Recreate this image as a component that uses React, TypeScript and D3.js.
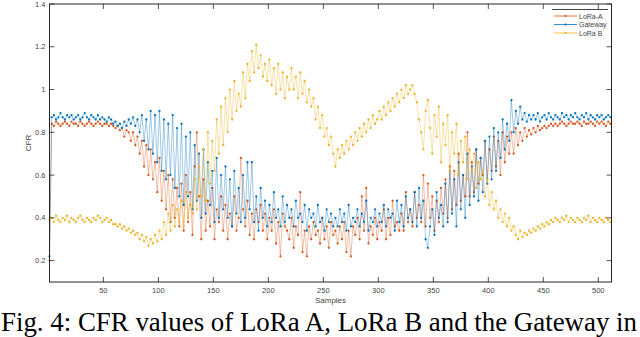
import React from "react";
import * as d3 from "d3";

// CFR values (×100), one value every 2 samples (s = 1, 3, 5, ... 511)
const loraA = [
  20, 84, 83, 85, 84, 83, 84, 85, 84, 83,
  85, 84, 84, 83, 85, 84, 83, 84, 85, 84,
  83, 84, 85, 84, 83, 84, 84, 83, 84, 83,
  82, 83, 81, 82, 78, 81, 80, 76, 80, 74,
  78, 70, 76, 64, 74, 60, 72, 58, 66, 52,
  68, 48, 62, 44, 60, 38, 58, 40, 54, 36,
  56, 34, 60, 38, 52, 32, 64, 80, 50, 30,
  58, 34, 48, 36, 54, 30, 44, 38, 50, 34,
  46, 30, 42, 36, 50, 34, 40, 68, 44, 36,
  48, 32, 42, 30, 44, 38, 46, 34, 42, 30,
  40, 34, 44, 28, 38, 22, 42, 36, 34, 30,
  40, 26, 36, 32, 52, 24, 34, 22, 36, 30,
  38, 32, 34, 28, 40, 30, 36, 26, 38, 32,
  34, 28, 36, 30, 38, 24, 34, 22, 36, 32,
  40, 30, 50, 34, 54, 28, 36, 32, 40, 30,
  38, 34, 44, 30, 40, 32, 48, 36, 38, 34,
  42, 34, 52, 38, 44, 36, 52, 40, 46, 38,
  60, 36, 56, 40, 50, 34, 48, 38, 54, 42,
  58, 40, 64, 44, 62, 46, 70, 48, 60, 50,
  80, 50, 66, 52, 72, 56, 68, 60, 76, 58,
  72, 62, 78, 64, 76, 60, 80, 66, 78, 70,
  80, 70, 82, 74, 80, 76, 82, 78, 81, 79,
  82, 80, 83, 81, 82, 83, 82, 83, 84, 83,
  84, 83, 84, 85, 84, 83, 84, 85, 84, 84,
  85, 84, 83, 85, 84, 84, 85, 84, 83, 85,
  84, 85, 84, 83, 85, 84,
];

const gateway = [
  22, 87, 88, 86, 87, 89, 87, 86, 88, 87,
  88, 86, 87, 88, 86, 87, 89, 87, 86, 88,
  87, 86, 88, 86, 87, 86, 85, 87, 86, 84,
  85, 83, 84, 82, 85, 83, 86, 84, 87, 83,
  86, 80, 88, 76, 86, 72, 90, 70, 88, 66,
  90, 62, 86, 58, 84, 60, 88, 54, 82, 50,
  84, 46, 78, 50, 80, 44, 74, 48, 70, 40,
  72, 42, 66, 46, 62, 38, 68, 40, 60, 44,
  64, 40, 58, 36, 62, 42, 54, 38, 60, 40,
  66, 44, 66, 38, 50, 34, 54, 40, 48, 36,
  46, 38, 52, 40, 44, 36, 50, 38, 46, 40,
  44, 36, 48, 40, 42, 38, 46, 34, 44, 40,
  42, 36, 46, 38, 40, 34, 44, 38, 42, 36,
  40, 36, 44, 38, 42, 34, 46, 36, 40, 38,
  44, 36, 42, 38, 48, 34, 40, 38, 44, 36,
  42, 38, 46, 36, 44, 40, 42, 34, 48, 38,
  46, 36, 50, 40, 44, 38, 52, 36, 54, 40,
  48, 30, 26, 36, 44, 32, 52, 40, 46, 36,
  56, 38, 62, 42, 58, 36, 66, 44, 60, 40,
  70, 46, 64, 50, 72, 48, 68, 52, 76, 56,
  78, 58, 82, 62, 80, 68, 86, 72, 84, 76,
  95, 80, 90, 84, 92, 86, 89, 85, 88, 86,
  88, 86, 89, 85, 87, 88, 86, 89, 87, 86,
  88, 87, 86, 89, 87, 88, 86, 88, 87, 89,
  87, 86, 88, 87, 89, 86, 88, 87, 86, 88,
  87, 88, 86, 87, 88, 87,
];

const loraB = [
  39, 40, 38, 41, 39, 38, 40, 39, 41, 38,
  40, 39, 38, 40, 41, 39, 38, 40, 39, 38,
  40, 39, 41, 40, 38, 39, 40, 38, 39, 37,
  37, 36, 37, 35, 36, 34, 35, 33, 34, 32,
  33, 30, 32, 29, 31, 27, 30, 28, 32, 29,
  34, 30, 38, 32, 42, 34, 46, 36, 44, 38,
  48, 36, 52, 40, 46, 42, 58, 44, 64, 50,
  72, 48, 80, 56, 76, 62, 86, 70, 92, 74,
  96, 80, 100, 86, 104, 90, 98, 92, 108, 96,
  112, 104, 118, 108, 121, 110, 116, 106, 112, 104,
  114, 102, 110, 98, 112, 100, 108, 96, 106, 100,
  110, 100, 106, 96, 108, 98, 104, 94, 100, 92,
  96, 86, 92, 82, 88, 78, 82, 74, 78, 70,
  64, 72, 68, 74, 70, 76, 72, 78, 74, 80,
  76, 82, 78, 84, 80, 86, 82, 88, 84, 86,
  90, 86, 92, 88, 94, 90, 96, 92, 98, 94,
  100, 96, 102, 98, 100, 102, 98, 94, 86, 80,
  72, 90, 95, 82, 70, 88, 78, 92, 66, 84,
  74, 88, 62, 80, 70, 84, 60, 76, 66, 78,
  58, 72, 62, 70, 54, 66, 58, 62, 50, 58,
  46, 52, 44, 48, 40, 44, 38, 42, 36, 40,
  34, 36, 32, 30, 34, 31, 33, 32, 34, 33,
  35, 34, 36, 35, 37, 36, 38, 37, 39, 38,
  40, 39, 38, 40, 39, 41, 38, 40, 39, 38,
  40, 39, 38, 40, 39, 41, 38, 40, 39, 38,
  40, 39, 38, 40, 39, 38,
];

const xTicks = [50, 100, 150, 200, 250, 300, 350, 400, 450, 500];
const yTicks = [0.2, 0.4, 0.6, 0.8, 1.0, 1.2, 1.4];
const seriesNames = ["LoRa-A", "Gateway", "LoRa B"];
const seriesColors = ["#D95319", "#0072BD", "#EDB120"];
const caption = "Fig. 4: CFR values of LoRa A, LoRa B and the Gateway in";

const W = 640;
const H = 337;
const L = 49.5, R = 611.5, T = 4, B = 282;

export default function App() {
  const x = d3.scaleLinear().domain([1, 512]).range([L, R]);
  const y = d3.scaleLinear().domain([0.1, 1.4]).range([B, T]);
  const allSeries = [loraA, gateway, loraB].map((arr) =>
    arr.map((v, i) => ({ s: 1 + i * 2, v: v / 100 }))
  );
  const line = d3
    .line<{ s: number; v: number }>()
    .x((d) => x(d.s))
    .y((d) => y(d.v));
  const axisColor = "#262626";
  const tickFont = "Liberation Sans, Arial, sans-serif";
  const fmt = (v: number) => (Math.abs(v - 1) < 1e-9 ? "1" : d3.format(".1f")(v));

  return (
    <svg
      width={W}
      height={H}
      style={{ position: "absolute", left: 0, top: 0, background: "#fff" }}
    >
      <rect x={0} y={0} width={W} height={H} fill="#fff" />
      {allSeries.map((data, k) => (
        <g key={k}>
          <path d={line(data) || ""} fill="none" stroke={seriesColors[k]} strokeWidth={0.5} strokeOpacity={0.75} />
          {data.map((d, i) => (
            <circle key={i} cx={x(d.s)} cy={y(d.v)} r={1.15} fill={seriesColors[k]} />
          ))}
        </g>
      ))}
      {/* frame */}
      <rect x={L} y={T} width={R - L} height={B - T} fill="none" stroke={axisColor} strokeWidth={1} />
      {xTicks.map((t) => (
        <g key={"x" + t}>
          <line x1={x(t)} x2={x(t)} y1={B} y2={B - 5} stroke={axisColor} strokeWidth={0.8} />
          <line x1={x(t)} x2={x(t)} y1={T} y2={T + 5} stroke={axisColor} strokeWidth={0.8} />
          <text x={x(t)} y={B + 11} textAnchor="middle" fontSize={7.5} fontFamily={tickFont} fill="#444">
            {t}
          </text>
        </g>
      ))}
      {yTicks.map((t) => (
        <g key={"y" + t}>
          <line x1={L} x2={L + 5} y1={y(t)} y2={y(t)} stroke={axisColor} strokeWidth={0.8} />
          <line x1={R} x2={R - 5} y1={y(t)} y2={y(t)} stroke={axisColor} strokeWidth={0.8} />
          <text x={L - 4} y={y(t) + 2.5} textAnchor="end" fontSize={7.5} fontFamily={tickFont} fill="#444">
            {fmt(t)}
          </text>
        </g>
      ))}
      <text
        transform={`translate(${31},${(T + B) / 2}) rotate(-90)`}
        textAnchor="middle"
        fontSize={8}
        fontFamily={tickFont}
        fill="#444"
      >
        CFR
      </text>
      <text x={(L + R) / 2} y={B + 21} textAnchor="middle" fontSize={8} fontFamily={tickFont} fill="#444">
        Samples
      </text>
      {/* legend */}
      <line x1={552} x2={608} y1={9.5} y2={9.5} stroke="#444" strokeWidth={1.2} />
      {seriesNames.map((n, k) => (
        <g key={n}>
          <line x1={554} x2={577} y1={16 + k * 8.5} y2={16 + k * 8.5} stroke={seriesColors[k]} strokeWidth={0.8} />
          <circle cx={565.5} cy={16 + k * 8.5} r={1.1} fill={seriesColors[k]} />
          <text x={579} y={18.5 + k * 8.5} fontSize={7} fontFamily={tickFont} fill="#444">
            {n}
          </text>
        </g>
      ))}
      <text
        x={1}
        y={331}
        fontSize={26.5}
        textLength={636}
        lengthAdjust="spacingAndGlyphs"
        fontFamily="Liberation Serif, Times New Roman, serif"
        fill="#000"
      >
        {caption}
      </text>
    </svg>
  );
}
